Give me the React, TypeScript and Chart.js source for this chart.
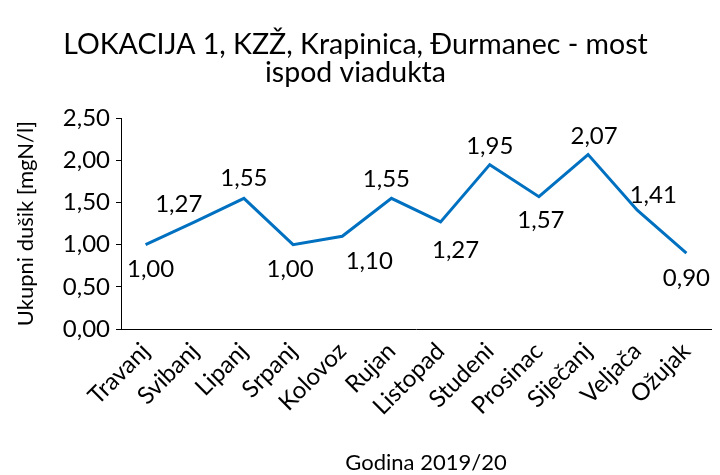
import React, { useEffect, useRef } from "react";
import { Chart, registerables } from "chart.js";

Chart.register(...registerables);

const titleLines = ["LOKACIJA 1, KZŽ, Krapinica, Đurmanec - most", "ispod viadukta"];
const months = ["Travanj", "Svibanj", "Lipanj", "Srpanj", "Kolovoz", "Rujan", "Listopad", "Studeni", "Prosinac", "Siječanj", "Veljača", "Ožujak"];
const values = [1.0, 1.27, 1.55, 1.0, 1.1, 1.55, 1.27, 1.95, 1.57, 2.07, 1.41, 0.9];
const labelPos = ["below", "above", "above", "below", "below", "above", "below", "above", "below", "above", "above", "below"];
const yTitle = "Ukupni dušik [mgN/l]";
const xTitle = "Godina 2019/20";

const FONT = "Lato, 'Open Sans', sans-serif";

// label nudges (px) to mimic the reference's label placement
const labelNudgeX = [5, -16, 0, -3, 27, -5, 15, 0, 2, 6, 16, 0];
const labelNudgeY = [0, 1, -1, 0, 0, 0, 3, 1, -1, 1, 4, 0];

const fmt = (v: number) => v.toFixed(2).replace(".", ",");

const dataLabels = {
  id: "dataLabels",
  afterDatasetsDraw(chart: any) {
    const meta = chart.getDatasetMeta(0);
    const ctx = chart.ctx;
    ctx.save();
    ctx.font = `24px ${FONT}`;
    ctx.fillStyle = "#000";
    ctx.textAlign = "center";
    ctx.textBaseline = "middle";
    meta.data.forEach((pt: any, i: number) => {
      const above = labelPos[i] === "above";
      const dy = (above ? -19 : 25) + labelNudgeY[i];
      ctx.fillText(fmt(values[i]), pt.x + labelNudgeX[i], pt.y + dy);
    });
    ctx.restore();
  },
};

const xAxisTitle = {
  id: "xAxisTitle",
  afterDraw(chart: any) {
    const ctx = chart.ctx;
    const a = chart.chartArea;
    ctx.save();
    ctx.font = `22px ${FONT}`;
    ctx.fillStyle = "#000";
    ctx.textAlign = "center";
    ctx.textBaseline = "middle";
    ctx.fillText(xTitle, (a.left + a.right) / 2 + 10, chart.height - 12);
    ctx.restore();
  },
};

export default function App() {
  const ref = useRef<HTMLCanvasElement>(null);
  useEffect(() => {
    const chart = new Chart(ref.current!, {
      type: "line",
      data: {
        labels: months,
        datasets: [
          {
            data: values,
            borderColor: "#0070C0",
            borderWidth: 3,
            pointRadius: 0,
            tension: 0,
            fill: false,
          },
        ],
      },
      options: {
        animation: false,
        responsive: false,
        layout: { padding: { left: 0, right: 9, top: 0, bottom: 0 } },
        plugins: {
          legend: { display: false },
          tooltip: { enabled: false },
          title: {
            display: true,
            text: titleLines,
            color: "#000",
            font: { family: FONT, size: 28.5, weight: "normal", lineHeight: 0.97 },
            padding: { top: 31, bottom: 32 },
          },
        },
        scales: {
          x: {
            offset: true,
            grid: { display: false, drawTicks: false },
            border: { display: true, color: "#000", width: 1 },
            ticks: {
              color: "#000",
              font: { family: FONT, size: 24 },
              maxRotation: 45,
              minRotation: 45,
              padding: 8,
              autoSkip: false,
            },
            title: { display: false, text: xTitle },
            afterFit: (s: any) => {
              s.height = 146;
            },
          },
          y: {
            min: 0,
            max: 2.5,
            grid: { drawOnChartArea: false, drawTicks: true, tickLength: 5, color: "#000" },
            border: { display: true, color: "#000", width: 1 },
            ticks: {
              stepSize: 0.5,
              color: "#000",
              font: { family: FONT, size: 24 },
              padding: 6,
              callback: (v: any) => fmt(Number(v)),
            },
            title: {
              display: true,
              text: yTitle,
              color: "#000",
              font: { family: FONT, size: 22 },
              padding: { top: 13, bottom: 0 },
            },
            afterFit: (s: any) => {
              s.width = 121;
            },
          },
        },
      },
      plugins: [dataLabels, xAxisTitle],
    });
    return () => chart.destroy();
  }, []);
  return (
    <div style={{ position: "fixed", left: 0, top: 0, width: 720, height: 475, background: "#fff" }}>
      <canvas ref={ref} width={720} height={475} />
    </div>
  );
}
